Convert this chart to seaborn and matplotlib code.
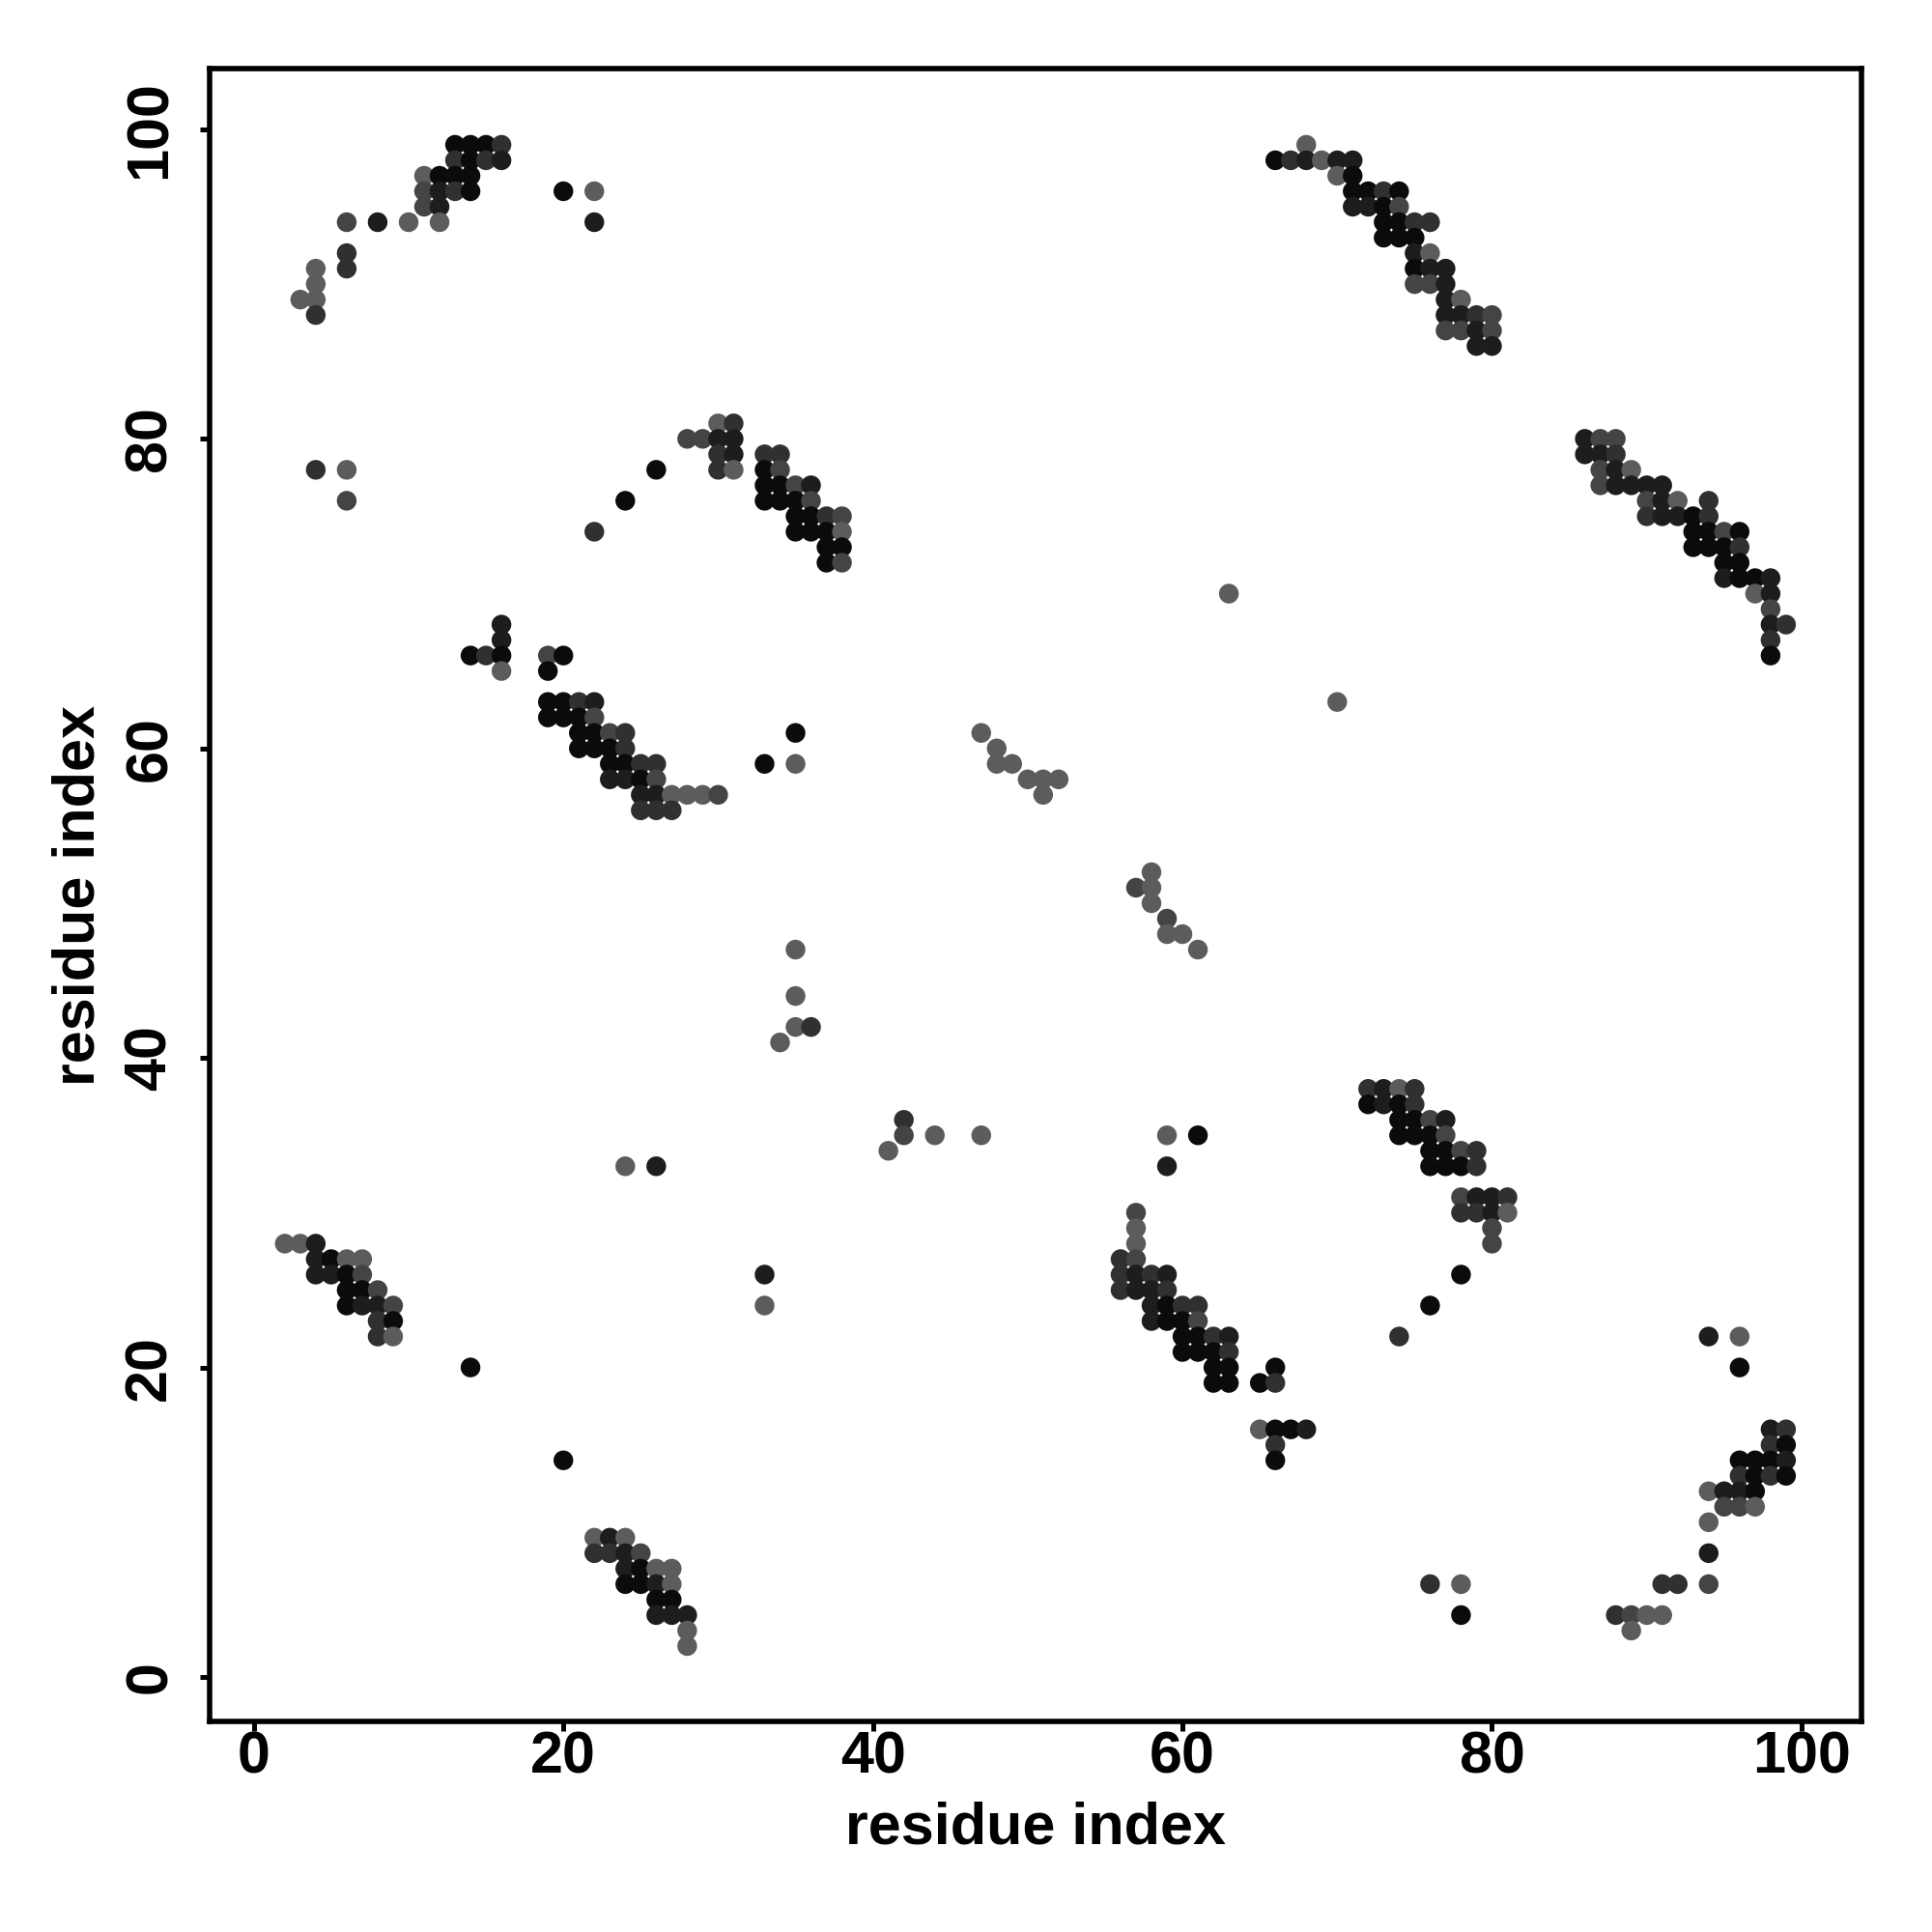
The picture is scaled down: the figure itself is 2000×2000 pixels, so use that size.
import pandas as pd
import matplotlib
matplotlib.use("Agg")
import matplotlib.pyplot as plt
import seaborn as sns

# contact map: residue pairs (i, j) and a shade level (1 = darkest ... 5 = lightest grey)
res_i = [
    13, 14, 15, 16, 13, 14, 15, 16, 11, 12, 13, 14, 11, 12, 13, 14, 20, 22, 11, 12,
    6, 8, 10, 12, 22, 6, 4, 6, 4, 3, 4, 4, 4, 6, 6,
    68, 66, 67, 68, 69, 70, 71, 70, 71, 71, 72, 73, 74, 71, 72, 73, 74,
    73, 74, 75, 76, 73, 74, 75, 75, 76, 75, 76, 77, 75, 76, 77, 77, 78,
    77, 78, 79, 80, 77, 78, 79, 80, 79, 80,
    30, 31, 28, 29, 30, 31, 30, 31, 33, 34, 26, 30, 31, 33, 34, 33, 34, 35, 36,
    24, 33, 34, 35, 36, 35, 36, 37, 38, 22, 35, 36, 37, 38, 37, 38, 37, 38,
    16, 16, 14, 15, 16, 19, 20, 16, 19,
    19, 20, 21, 22, 19, 20, 21, 22, 21, 22, 23, 24, 35, 21, 22, 23, 24,
    23, 24, 25, 26, 33, 35, 23, 24, 25, 26, 25, 26, 27, 28, 29, 30, 25, 26, 27,
    86, 87, 88, 86, 87, 88, 87, 88, 89, 87, 88, 89, 90, 91, 90, 91, 92, 94,
    90, 91, 92, 93, 94, 93, 94, 95, 96, 93, 94, 95, 96, 95, 96, 95, 96, 97, 98,
    97, 98, 98, 98, 99, 98, 98, 63, 70,
    47, 48, 48, 49, 50, 51, 52, 51, 58, 57, 58, 58, 59, 59, 60, 35, 61, 35, 35, 36, 34,
    42, 42, 44, 47, 41, 33, 33,
    24, 26, 2, 3, 4, 4, 5, 6, 7, 4, 5, 6, 7, 6, 7, 8, 6, 7, 8, 9, 8, 9, 8, 9, 14,
    20, 22, 23, 24, 22, 23, 24, 25, 24, 25, 26, 27, 24, 25, 26, 27, 26, 27, 26, 27, 28, 28, 28,
    72, 73, 74, 75, 72, 73, 74, 75, 74, 75, 76, 77, 59, 61, 74, 75, 76, 77,
    76, 77, 78, 79, 59, 76, 77, 78, 79, 78, 79, 80, 81, 57, 78, 79, 80, 81,
    57, 80, 57, 80, 56, 57, 56, 57, 58, 59, 78, 56, 57, 58, 59,
    58, 59, 60, 61, 76, 58, 59, 60, 61, 60, 61, 62, 63, 74, 60, 61, 62, 63,
    62, 63, 66, 62, 63, 65, 66, 65, 66, 67, 68, 66, 66,
    94, 96, 96, 98, 99, 98, 99, 96, 97, 98, 99, 96, 97, 98, 99, 94, 95, 96, 97,
    95, 96, 97, 94, 94, 91, 92, 94, 88, 89, 90, 91, 89, 76, 78, 78,
]
res_j = [
    99, 99, 99, 99, 98, 98, 98, 98, 97, 97, 97, 97, 96, 96, 96, 96, 96, 96, 95, 95,
    94, 94, 94, 94, 94, 92, 91, 91, 90, 89, 89, 88, 78, 78, 76,
    99, 98, 98, 98, 98, 98, 98, 97, 97, 96, 96, 96, 96, 95, 95, 95, 95,
    94, 94, 94, 94, 93, 93, 93, 92, 92, 91, 91, 91, 90, 90, 90, 89, 89,
    88, 88, 88, 88, 87, 87, 87, 87, 86, 86,
    81, 81, 80, 80, 80, 80, 79, 79, 79, 79, 78, 78, 78, 78, 78, 77, 77, 77, 77,
    76, 76, 76, 76, 76, 75, 75, 75, 75, 74, 74, 74, 74, 74, 73, 73, 72, 72,
    68, 67, 66, 66, 66, 66, 66, 65, 65,
    63, 63, 63, 63, 62, 62, 62, 62, 61, 61, 61, 61, 61, 60, 60, 60, 60,
    59, 59, 59, 59, 59, 59, 58, 58, 58, 58, 57, 57, 57, 57, 57, 57, 56, 56, 56,
    80, 80, 80, 79, 79, 79, 78, 78, 78, 77, 77, 77, 77, 77, 76, 76, 76, 76,
    75, 75, 75, 75, 75, 74, 74, 74, 74, 73, 73, 73, 73, 72, 72, 71, 71, 71, 71,
    70, 70, 69, 68, 68, 67, 66, 70, 63,
    61, 60, 59, 59, 58, 58, 58, 57, 52, 51, 51, 50, 49, 48, 48, 47, 47, 44, 42, 42, 41,
    36, 35, 35, 35, 34, 26, 24,
    33, 33, 28, 28, 28, 27, 27, 27, 27, 26, 26, 26, 26, 25, 25, 25, 24, 24, 24, 24, 23, 23, 22, 22, 20,
    14, 9, 9, 9, 8, 8, 8, 8, 7, 7, 7, 7, 6, 6, 6, 6, 5, 5, 4, 4, 4, 3, 2,
    38, 38, 38, 38, 37, 37, 37, 37, 36, 36, 36, 36, 35, 35, 35, 35, 35, 35,
    34, 34, 34, 34, 33, 33, 33, 33, 33, 31, 31, 31, 31, 30, 30, 30, 30, 30,
    29, 29, 28, 28, 27, 27, 26, 26, 26, 26, 26, 25, 25, 25, 25,
    24, 24, 24, 24, 24, 23, 23, 23, 23, 22, 22, 22, 22, 22, 21, 21, 21, 21,
    20, 20, 20, 19, 19, 19, 19, 16, 16, 16, 16, 15, 14,
    22, 22, 20, 16, 16, 15, 15, 14, 14, 14, 14, 13, 13, 13, 13, 12, 12, 12, 12,
    11, 11, 11, 10, 8, 6, 6, 6, 4, 4, 4, 4, 3, 6, 6, 4,
]
shade = [
    1, 1, 1, 3, 3, 1, 3, 2, 5, 1, 1, 1, 4, 2, 3, 1, 1, 5, 4, 2,
    4, 2, 5, 5, 2, 3, 5, 3, 5, 5, 5, 3, 3, 5, 4,
    5, 1, 3, 2, 5, 2, 2, 5, 1, 1, 1, 3, 1, 2, 2, 1, 4,
    1, 1, 3, 3, 1, 1, 1, 2, 5, 1, 2, 2, 4, 4, 2, 2, 5,
    2, 2, 3, 4, 4, 4, 2, 4, 2, 2,
    5, 3, 4, 4, 2, 2, 3, 2, 3, 3, 1, 3, 5, 1, 4, 1, 1, 4, 2,
    1, 1, 1, 1, 4, 1, 1, 3, 4, 3, 1, 1, 1, 5, 1, 1, 1, 4,
    2, 2, 1, 3, 1, 4, 1, 5, 1,
    1, 1, 3, 2, 1, 1, 1, 4, 1, 1, 4, 3, 1, 1, 1, 1, 3,
    1, 1, 3, 3, 1, 5, 2, 2, 1, 4, 2, 2, 5, 5, 5, 4, 3, 3, 3,
    2, 4, 4, 2, 2, 3, 4, 2, 5, 4, 2, 2, 2, 2, 4, 2, 5, 3,
    3, 2, 2, 1, 3, 1, 1, 4, 1, 1, 1, 1, 3, 1, 1, 2, 1, 1, 2,
    5, 2, 4, 2, 3, 3, 1, 5, 5,
    5, 5, 5, 5, 5, 5, 5, 5, 5, 4, 5, 5, 4, 5, 5, 5, 5, 5, 5, 3, 5,
    3, 4, 5, 5, 5, 2, 5,
    5, 2, 5, 5, 2, 2, 1, 5, 5, 2, 2, 1, 4, 1, 1, 4, 1, 2, 2, 4, 3, 1, 3, 5, 1,
    1, 5, 2, 5, 3, 3, 2, 4, 2, 1, 5, 5, 1, 1, 2, 5, 1, 1, 2, 2, 2, 5, 5,
    3, 2, 5, 3, 1, 2, 1, 3, 1, 1, 4, 2, 5, 1, 1, 1, 1, 4,
    1, 1, 4, 3, 2, 1, 1, 1, 3, 4, 2, 2, 3, 4, 3, 3, 2, 5,
    5, 4, 5, 4, 3, 4, 3, 2, 3, 2, 1, 3, 2, 2, 3,
    2, 1, 3, 3, 1, 2, 1, 1, 4, 1, 1, 3, 2, 3, 1, 1, 1, 3,
    1, 1, 1, 1, 1, 1, 3, 5, 1, 1, 2, 3, 1,
    2, 5, 1, 2, 3, 3, 1, 1, 1, 1, 2, 3, 1, 3, 1, 5, 2, 2, 1,
    4, 4, 5, 5, 2, 3, 3, 4, 3, 4, 5, 5, 5, 3, 5, 1,
]
shade_colors = {1: "#0b0b0b", 2: "#1d1d1d", 3: "#303030", 4: "#444444", 5: "#5c5c5c"}
tick_vals = [0, 20, 40, 60, 80, 100]

assert len(res_i) == len(res_j) == len(shade)

df = pd.DataFrame({"i": res_i, "j": res_j, "shade": shade})

sns.set_style("white")
plt.rcParams["font.family"] = ["Liberation Sans", "DejaVu Sans"]
plt.rcParams["font.weight"] = "bold"
plt.rcParams["text.color"] = "black"
plt.rcParams["axes.labelcolor"] = "black"

fig = plt.figure(figsize=(10, 10), dpi=200)
ax = fig.add_axes([0.1084, 0.109, 0.8553, 0.8553])

sns.scatterplot(data=df, x="i", y="j", hue="shade", palette=shade_colors,
                s=54, linewidth=0, legend=False, ax=ax)

ax.set_xlim(-2.87, 103.9)
ax.set_ylim(-2.87, 103.9)
ax.set_xticks(tick_vals)
ax.set_yticks(tick_vals)
ax.set_xticklabels([str(v) for v in tick_vals], fontsize=22, fontweight="bold")
ax.set_yticklabels([str(v) for v in tick_vals], fontsize=22, fontweight="bold",
                   rotation=90, va="center")

for sp in ax.spines.values():
    sp.set_visible(True)
    sp.set_color("black")
    sp.set_linewidth(2.0)

ax.tick_params(axis="both", direction="out", length=3.5, width=1.8, colors="black",
               bottom=True, left=True)
ax.tick_params(axis="x", pad=0)
ax.tick_params(axis="y", pad=8)

ax.set_xlabel("residue index", fontsize=22, fontweight="bold", va="center", color="black")
ax.set_ylabel("residue index", fontsize=22, fontweight="bold", va="center", color="black")
ax.xaxis.set_label_coords(0.5, -0.065)
ax.yaxis.set_label_coords(-0.079, 0.5)

fig.savefig("out.png", dpi=200)
